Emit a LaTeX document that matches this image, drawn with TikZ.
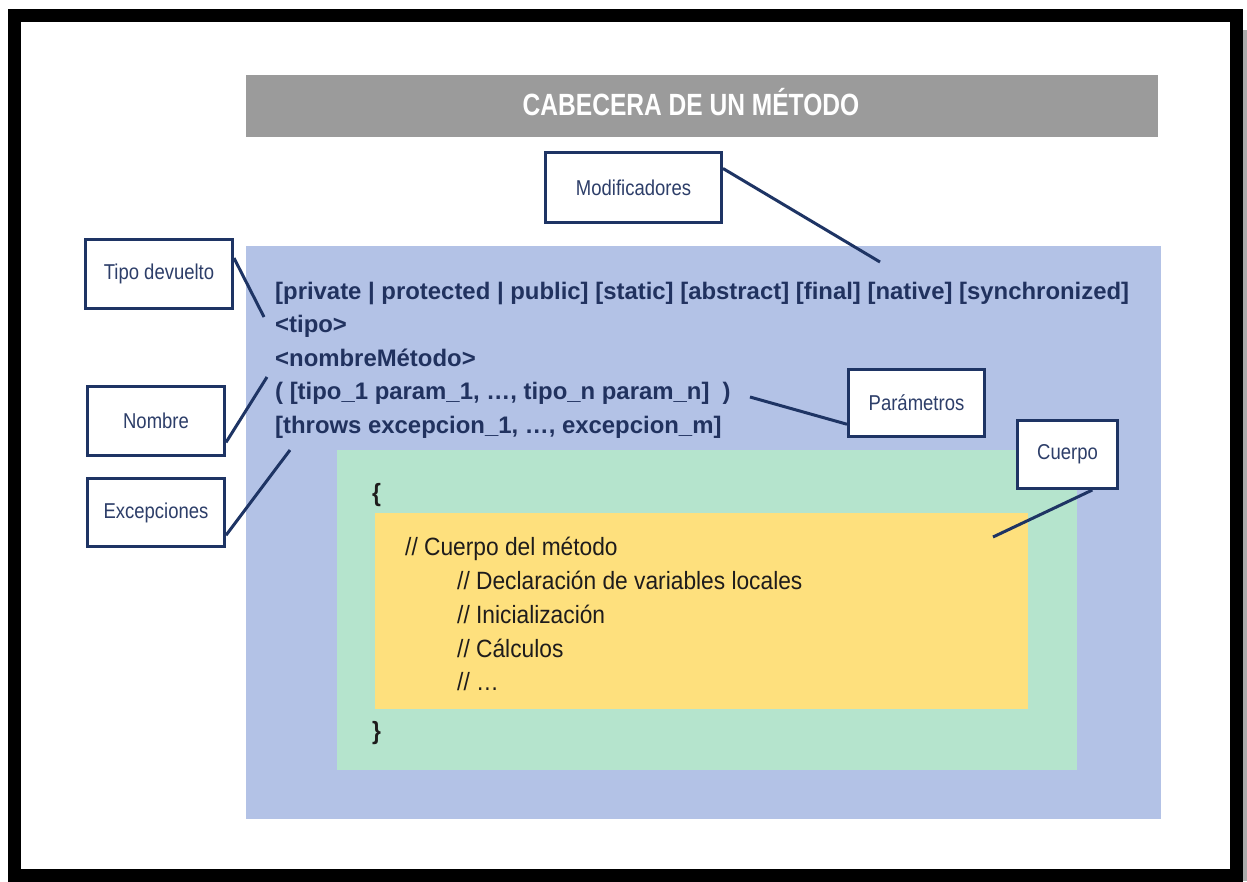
\documentclass[tikz,border=0pt]{standalone}
\usepackage{fontspec}
\setmainfont{Liberation Sans}
\newfontfamily\titlefont[FakeStretch=0.80]{Liberation Sans}
\newfontfamily\lblfont[FakeStretch=0.86]{Liberation Sans}
\newfontfamily\codefont[FakeStretch=0.91]{Liberation Sans}
\newfontfamily\hdrfont{Liberation Sans}
\definecolor{titlegray}{RGB}{155,155,155}
\definecolor{shadowgray}{RGB}{170,170,170}
\definecolor{headblue}{RGB}{179,194,230}
\definecolor{bodygreen}{RGB}{181,228,205}
\definecolor{codeyellow}{RGB}{254,224,125}
\definecolor{navy}{RGB}{30,52,100}
\definecolor{hdrnavy}{RGB}{33,50,95}
\definecolor{lbltext}{RGB}{45,62,105}
\definecolor{codeblack}{RGB}{30,28,28}
\tikzset{
  lbl/.style={draw=navy, line width=3pt, fill=white, inner sep=0pt, text=lbltext,
    font=\lblfont\fontsize{21.5}{24}\selectfont},
  conn/.style={draw=navy, line width=3pt},
  hdr/.style={anchor=base west, inner sep=0pt, text=hdrnavy,
    font=\hdrfont\bfseries\fontsize{23.9}{28}\selectfont},
  codeln/.style={anchor=base west, inner sep=0pt, text=codeblack,
    font=\codefont\fontsize{25}{30}\selectfont},
  brace/.style={anchor=base west, inner sep=0pt, text=codeblack,
    font=\codefont\bfseries\fontsize{25}{30}\selectfont},
  titletext/.style={anchor=base, inner sep=0pt, text=white,
    font=\titlefont\bfseries\fontsize{30.7}{34}\selectfont}
}
\begin{document}
\begin{tikzpicture}[x=1pt,y=-1pt]
\useasboundingbox (0,0) rectangle (1247,881);
\fill[white] (0,0) rectangle (1247,881);
% frame and shadow
\fill[shadowgray] (1243,30) rectangle (1247,881);
\draw[line width=13pt] (14.5,15.5) rectangle (1236.5,875.5);
% title bar
\fill[titlegray] (246,75) rectangle (1158,137);
\node[titletext] (title) at (691,115) {CABECERA DE UN MÉTODO};
% nested areas
\fill[headblue] (246,246) rectangle (1161,819);
\fill[bodygreen] (337,450) rectangle (1077,770);
\fill[codeyellow] (375,513) rectangle (1028,709);
% header text
\node[hdr] (h1) at (275,299) {[private | protected | public] [static] [abstract] [final] [native] [synchronized]};
\node[hdr] (h2) at (275,332.5) {<tipo>};
\node[hdr] (h3) at (275,366) {<nombreMétodo>};
\node[hdr] (h4) at (275,399.5) {( [tipo\_1 param\_1, …, tipo\_n param\_n]\ \ )};
\node[hdr] (h5) at (275,433) {[throws excepcion\_1, …, excepcion\_m]};
% body
\node[brace] (ob) at (372,501) {\{};
\node[codeln] (c1) at (405,555) {// Cuerpo del método};
\node[codeln] (c2) at (457,589) {// Declaración de variables locales};
\node[codeln] (c3) at (457,623) {// Inicialización};
\node[codeln] (c4) at (457,657) {// Cálculos};
\node[codeln] (c5) at (457,690) {// …};
\node[brace] (cb) at (372,739) {\}};
% connector free ends
\coordinate (modEnd) at (880,262);
\coordinate (tipoEnd) at (264,317);
\coordinate (nombreEnd) at (267,377);
\coordinate (excepEnd) at (290,450);
\coordinate (paramEnd) at (750,397);
\coordinate (cuerpoEnd) at (993,537);
% label boxes
\node[lbl, minimum width=176pt, minimum height=70pt] (mod) at (633.5,187.5) {Modificadores};
\node[lbl, minimum width=147pt, minimum height=69pt] (tipo) at (159,274) {Tipo devuelto};
\node[lbl, minimum width=137pt, minimum height=69pt] (nombre) at (156,421) {Nombre};
\node[lbl, minimum width=137pt, minimum height=68pt] (excep) at (156,512.5) {Excepciones};
\node[lbl, minimum width=136pt, minimum height=67pt] (param) at (916.5,403) {Parámetros};
\node[lbl, minimum width=100pt, minimum height=68pt] (cuerpo) at (1067.5,454.5) {Cuerpo};
% connectors
\draw[conn] (mod.12) -- (modEnd);
\draw[conn] (tipo.12) -- (tipoEnd);
\draw[conn] (nombre.-17) -- (nombreEnd);
\draw[conn] (excep.-18) -- (excepEnd);
\draw[conn] (param.197) -- (paramEnd);
\draw[conn] (cuerpo.-55) -- (cuerpoEnd);
\end{tikzpicture}
\end{document}
